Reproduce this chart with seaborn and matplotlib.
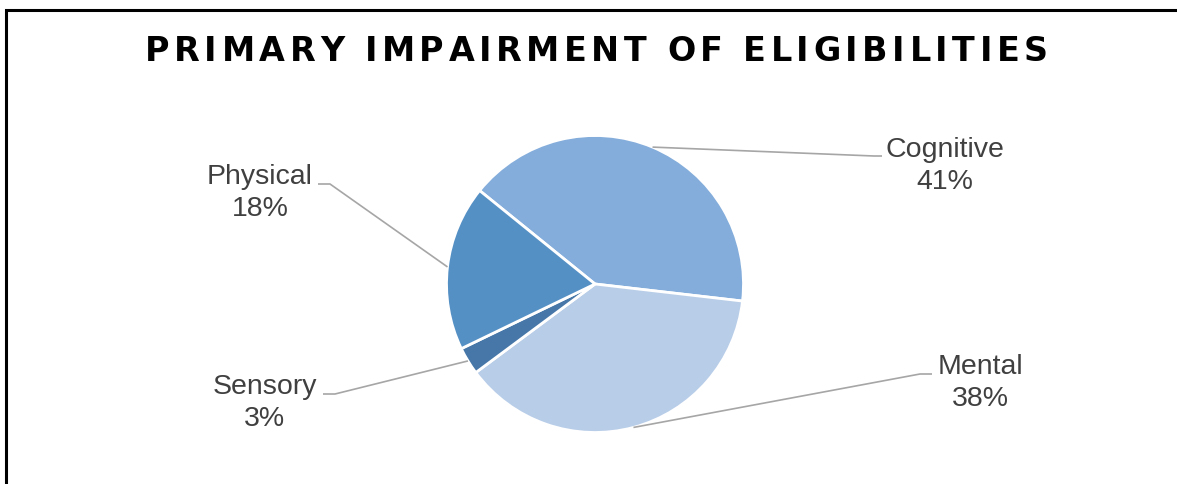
import matplotlib
matplotlib.use("Agg")
import matplotlib.pyplot as plt
import seaborn as sns
import numpy as np

# ---- data ----
categories = ["Cognitive", "Mental", "Sensory", "Physical"]
values = [41, 38, 3, 18]
pct_labels = ["41%", "38%", "3%", "18%"]
colors = ["#84ADDB", "#B8CDE8", "#4677A8", "#5590C5"]
title = "PRIMARY IMPAIRMENT OF ELIGIBILITIES"

sns.set_theme(style="white")
plt.rcParams['font.family'] = ['Liberation Sans', 'DejaVu Sans']

W, H = 1177, 484
fig = plt.figure(figsize=(W / 100, H / 100), dpi=100)
ax = fig.add_axes([0, 0, 1, 1])

cx, cy, R = 595, H - 284, 148.5
wedges, _ = ax.pie(values, colors=colors, startangle=141, counterclock=False,
                   center=(cx, cy), radius=R, frame=False,
                   wedgeprops=dict(edgecolor="white", linewidth=2.0))
ax.set_xlim(0, W)
ax.set_ylim(0, H)
ax.set_aspect("equal")
ax.axis("off")

# label layout (pixel coords, y from top): elbow point, end of horizontal, text center
layout = {
    "Cognitive": dict(elbow=(874, 156), end=(882, 156), text=(945, 166)),
    "Mental": dict(elbow=(920, 374), end=(932, 374), text=(980, 383)),
    "Sensory": dict(elbow=(335, 394), end=(323, 394), text=(264.5, 403)),
    "Physical": dict(elbow=(330, 184), end=(318, 184), text=(260, 193)),
}
line_col = "#A6A6A6"
for w, cat, pct in zip(wedges, categories, pct_labels):
    mid = np.deg2rad((w.theta1 + w.theta2) / 2)
    x0 = cx + R * np.cos(mid)
    y0 = cy + R * np.sin(mid)
    L = layout[cat]
    ex, ey = L["elbow"]
    fx, fy = L["end"]
    ax.plot([x0, ex, fx], [y0, H - ey, H - fy], color=line_col, lw=1.2,
            solid_capstyle="butt", zorder=1)
    tx, ty = L["text"]
    ax.text(tx, H - ty, f"{cat}\n{pct}", ha="center", va="center",
            fontsize=20.5, color="#404040", linespacing=1.28)

# title with letter spacing (tracked to span x=145..1048)
fig.canvas.draw()
renderer = fig.canvas.get_renderer()
tkw = dict(fontsize=24, fontweight="heavy", color="black", family=["DejaVu Sans"])
widths = []
for ch in title:
    t = fig.text(0, 0, ch if ch != " " else "I", **tkw)
    bb = t.get_window_extent(renderer)
    widths.append(bb.width if ch != " " else bb.width * 0.9)
    t.remove()
x_left, x_right = 145, 1048
natural = sum(widths)
track = (x_right - x_left - natural) / (len(title) - 1)
x = x_left
for ch, wd in zip(title, widths):
    if ch != " ":
        fig.text(x / W, 1 - 61 / H, ch, ha="left", va="baseline", **tkw)
    x += wd + track

# border (left and top)
ax.plot([6, 6, W], [0, H - 10, H - 10], color="black", lw=2.2, clip_on=False,
        solid_joinstyle="miter")

fig.savefig("out.png", dpi=100, facecolor="white")
